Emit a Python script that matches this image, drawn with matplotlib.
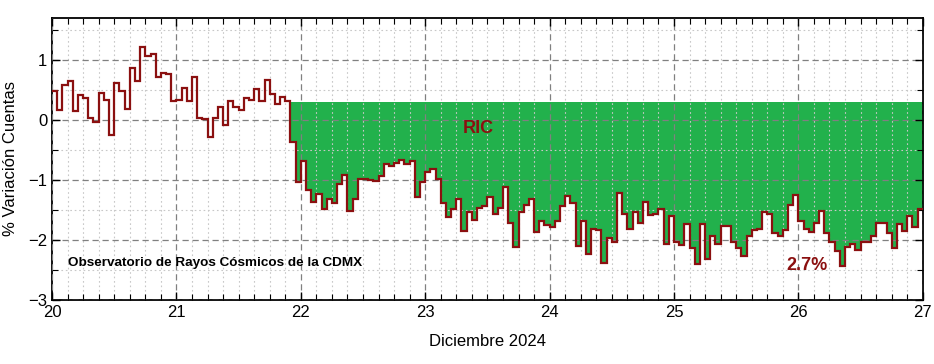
import matplotlib.pyplot as plt
import numpy as np
from matplotlib.ticker import MultipleLocator

plt.rcParams['font.family'] = ['Liberation Sans', 'DejaVu Sans']

# datos horarios, 20 al 27 de diciembre de 2024 (% variacion de cuentas)
dia_inicio = 20
variacion = [
    0.48, 0.17, 0.59, 0.65, 0.15, 0.41, 0.37, 0.03, -0.04, 0.45, 0.33, -0.25,
    0.62, 0.49, 0.18, 0.86, 0.65, 1.21, 1.07, 1.10, 0.72, 0.78, 0.76, 0.31,
    0.34, 0.54, 0.32, 0.72, 0.04, 0.01, -0.28, 0.03, 0.22, -0.08, 0.31, 0.21,
    0.17, 0.36, 0.33, 0.52, 0.31, 0.67, 0.43, 0.26, 0.38, 0.32, -0.36, -1.03,
    -0.68, -1.17, -1.36, -1.24, -1.49, -1.31, -1.38, -1.06, -0.91, -1.51, -1.32, -0.99,
    -0.99, -1.00, -1.02, -0.93, -0.73, -0.77, -0.71, -0.67, -0.74, -0.68, -1.28, -1.04,
    -0.86, -0.81, -0.98, -1.38, -1.62, -1.48, -1.32, -1.85, -1.54, -1.66, -1.46, -1.44,
    -1.29, -1.57, -1.47, -1.11, -1.72, -2.12, -1.53, -1.41, -1.32, -1.86, -1.69, -1.75,
    -1.78, -1.68, -1.43, -1.27, -1.39, -2.10, -1.68, -2.24, -1.81, -1.84, -2.38, -1.96,
    -2.03, -1.21, -1.57, -1.82, -1.54, -1.72, -1.36, -1.58, -1.56, -1.49, -2.07, -1.60,
    -2.03, -2.09, -1.73, -2.13, -2.40, -1.74, -2.32, -1.94, -2.07, -1.77, -1.77, -2.04,
    -2.13, -2.26, -1.93, -1.83, -1.81, -1.54, -1.57, -1.88, -1.93, -1.83, -1.41, -1.25,
    -1.69, -1.81, -1.87, -1.72, -1.51, -1.88, -2.04, -2.18, -2.44, -2.11, -2.06, -2.16,
    -2.04, -2.03, -1.94, -1.72, -1.71, -1.88, -2.14, -1.74, -1.85, -1.60, -1.78, -1.48,
]
inicio_ric = 46      # hora en que empieza el decrecimiento
nivel_ric = 0.3

v = np.array(variacion)
t = dia_inicio + np.arange(len(v) + 1) / 24

fig = plt.figure(figsize=(9.34, 3.64), dpi=100)
ax = fig.add_axes([0.0557, 0.176, 0.9323, 0.7745])

ax.fill_between(t[inicio_ric:], np.append(v[inicio_ric:], v[-1]), nivel_ric,
                step='post', color='#22b14c', lw=0, zorder=1)
ax.stairs(v, t, color='#8b1010', lw=1.6, baseline=None, zorder=3)

ax.set_xlim(20, 27)
ax.set_ylim(-3, 1.7)
ax.xaxis.set_major_locator(MultipleLocator(1))
ax.xaxis.set_minor_locator(MultipleLocator(0.125))
ax.yaxis.set_major_locator(MultipleLocator(1))
ax.yaxis.set_minor_locator(MultipleLocator(0.5))

ax.set_axisbelow(False)
ax.grid(which='major', ls=(0, (5, 3)), color='#808080', lw=0.9)
ax.grid(which='minor', ls=(0, (1.5, 2.5)), color='#c8c8c8', lw=0.8)

ax.tick_params(which='both', direction='in', top=True, right=True, labelsize=12)
ax.tick_params(which='major', length=6, width=1)
ax.tick_params(which='minor', length=4, width=0.8)
for s in ax.spines.values():
    s.set_linewidth(1.3)

ax.set_xlabel('Diciembre 2024', fontsize=12, labelpad=10)
ax.set_ylabel('% Variación Cuentas', fontsize=12, labelpad=7)

ax.text(23.43, -0.15, 'RIC', color='#8b1010', fontsize=13, fontweight='bold',
        ha='center', va='center')
ax.text(26.07, -2.42, '2.7%', color='#8b1010', fontsize=13, fontweight='bold',
        ha='center', va='center')
ax.text(20.13, -2.38, 'Observatorio de Rayos Cósmicos de la CDMX', color='black',
        fontsize=9.7, fontweight='bold', ha='left', va='center')

fig.savefig('out.png', dpi=100)
